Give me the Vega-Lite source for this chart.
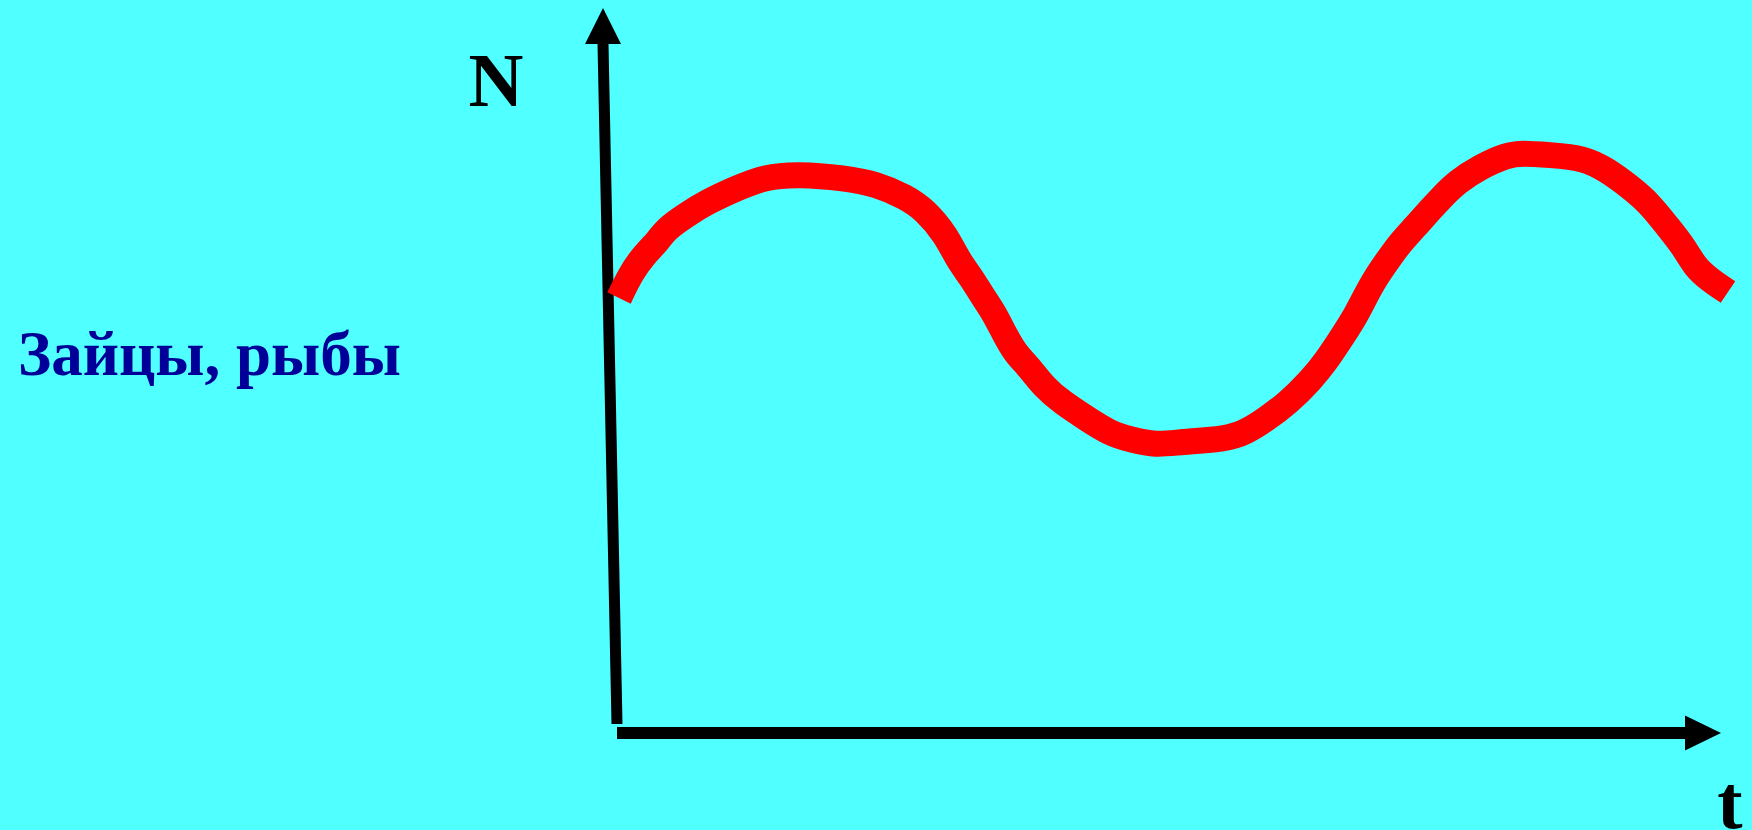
{
  "$schema": "https://vega.github.io/schema/vega-lite/v6.json",
  "width": 1752,
  "height": 830,
  "autosize": "none",
  "padding": 0,
  "background": "#50FFFF",
  "config": {"view": {"stroke": null}},
  "datasets": {
    "curve": [
      {"t": 2, "N": 435}, {"t": 14, "N": 460}, {"t": 27, "N": 478}, {"t": 42, "N": 493},
      {"t": 48, "N": 503}, {"t": 69, "N": 518}, {"t": 90, "N": 531}, {"t": 120, "N": 545},
      {"t": 148, "N": 556}, {"t": 180, "N": 559}, {"t": 228, "N": 555}, {"t": 259, "N": 549},
      {"t": 289, "N": 536}, {"t": 308, "N": 523}, {"t": 329, "N": 498}, {"t": 341, "N": 473},
      {"t": 354, "N": 456}, {"t": 366, "N": 436}, {"t": 377, "N": 420}, {"t": 387, "N": 400},
      {"t": 398, "N": 380}, {"t": 412, "N": 366}, {"t": 427, "N": 346}, {"t": 446, "N": 330},
      {"t": 469, "N": 315}, {"t": 492, "N": 300}, {"t": 515, "N": 293}, {"t": 539, "N": 288},
      {"t": 563, "N": 291}, {"t": 610, "N": 294}, {"t": 629, "N": 301}, {"t": 648, "N": 313},
      {"t": 671, "N": 330}, {"t": 694, "N": 353}, {"t": 710, "N": 373}, {"t": 725, "N": 396},
      {"t": 738, "N": 416}, {"t": 748, "N": 436}, {"t": 759, "N": 456}, {"t": 771, "N": 473},
      {"t": 783, "N": 490}, {"t": 798, "N": 506}, {"t": 813, "N": 523}, {"t": 825, "N": 536},
      {"t": 840, "N": 551}, {"t": 863, "N": 566}, {"t": 890, "N": 578}, {"t": 905, "N": 580},
      {"t": 932, "N": 578}, {"t": 967, "N": 575}, {"t": 990, "N": 563}, {"t": 1013, "N": 546},
      {"t": 1032, "N": 530}, {"t": 1051, "N": 506}, {"t": 1067, "N": 486}, {"t": 1078, "N": 466},
      {"t": 1093, "N": 453}, {"t": 1111, "N": 441}
    ],
    "axes": [
      {"name": "N", "t": -14, "N": 689, "t2": 0, "N2": 9, "w": 11},
      {"name": "t", "t": 0, "N": 0, "t2": 1068, "N2": 0, "w": 12}
    ],
    "arrows": [
      {"dir": "up", "t": -14, "N": 707},
      {"dir": "right", "t": 1086, "N": 0}
    ],
    "axisLabels": [
      {"label": "N", "t": -121, "N": 627},
      {"label": "t", "t": 1113, "N": -95}
    ],
    "title": [
      {"label": "Зайцы, рыбы", "t": -599, "N": 358}
    ]
  },
  "layer": [
    {
      "data": {"name": "axes"},
      "mark": {"type": "rule", "color": "black", "strokeCap": "butt"},
      "encoding": {
        "x": {"field": "t", "type": "quantitative", "scale": {"domain": [-617, 1135], "nice": false, "zero": false}, "axis": null},
        "y": {"field": "N", "type": "quantitative", "scale": {"domain": [-97, 733], "nice": false, "zero": false}, "axis": null},
        "x2": {"field": "t2"},
        "y2": {"field": "N2"},
        "strokeWidth": {"field": "w", "type": "quantitative", "scale": null, "legend": null}
      }
    },
    {
      "data": {"name": "arrows"},
      "mark": {"type": "point", "filled": true, "color": "black", "opacity": 1, "size": 1296, "strokeWidth": 0},
      "encoding": {
        "x": {"field": "t", "type": "quantitative"},
        "y": {"field": "N", "type": "quantitative"},
        "shape": {"field": "dir", "type": "nominal", "scale": {"domain": ["up", "right"], "range": ["M0,-1L1,1L-1,1Z", "M1,0L-1,-0.97L-1,0.97Z"]}, "legend": null}
      }
    },
    {
      "data": {"name": "curve"},
      "mark": {"type": "line", "color": "#FF0000", "strokeWidth": 26, "strokeCap": "butt", "strokeJoin": "round", "interpolate": "basis"},
      "encoding": {
        "x": {"field": "t", "type": "quantitative"},
        "y": {"field": "N", "type": "quantitative"}
      }
    },
    {
      "data": {"name": "axisLabels"},
      "mark": {"type": "text", "font": "Liberation Serif", "fontWeight": "bold", "fontSize": 76, "color": "black", "align": "center", "baseline": "alphabetic"},
      "encoding": {
        "x": {"field": "t", "type": "quantitative"},
        "y": {"field": "N", "type": "quantitative"},
        "text": {"field": "label"}
      }
    },
    {
      "data": {"name": "title"},
      "mark": {"type": "text", "font": "Liberation Serif", "fontWeight": "bold", "fontSize": 63, "color": "#000099", "align": "left", "baseline": "alphabetic"},
      "encoding": {
        "x": {"field": "t", "type": "quantitative"},
        "y": {"field": "N", "type": "quantitative"},
        "text": {"field": "label"}
      }
    }
  ]
}
